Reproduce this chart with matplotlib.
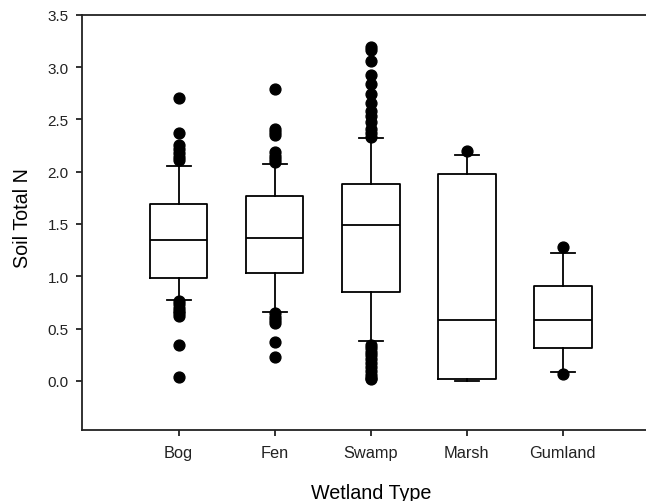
import matplotlib
matplotlib.use("Agg")
import matplotlib.pyplot as plt

plt.rcParams['font.family'] = ['Liberation Sans', 'DejaVu Sans']

categories = ['Bog', 'Fen', 'Swamp', 'Marsh', 'Gumland']
q1 = [0.98, 1.03, 0.85, 0.02, 0.31]
medians = [1.35, 1.37, 1.49, 0.58, 0.58]
q3 = [1.69, 1.77, 1.88, 1.98, 0.91]
whisker_low = [0.77, 0.66, 0.38, 0.00, 0.08]
whisker_high = [2.05, 2.07, 2.32, 2.16, 1.22]

bog_outliers = [2.70, 2.37, 2.25, 2.22, 2.18, 2.14, 2.11,
                0.76, 0.73, 0.70, 0.67, 0.65, 0.62, 0.34, 0.04]
fen_outliers = [2.79, 2.41, 2.38, 2.35, 2.19, 2.15, 2.12, 2.09,
                0.65, 0.61, 0.58, 0.55, 0.37, 0.23]
swamp_outliers = [3.19, 3.16, 3.06, 2.92, 2.84, 2.74, 2.66, 2.58, 2.53,
                  2.47, 2.41, 2.37, 2.33,
                  0.34, 0.31, 0.28, 0.25, 0.21, 0.17, 0.13, 0.09, 0.06,
                  0.03, 0.02]
marsh_outliers = [2.20]
gumland_outliers = [1.28, 0.07]
outliers = [bog_outliers, fen_outliers, swamp_outliers, marsh_outliers,
            gumland_outliers]


def buildStats():
    stats = []
    for i, name in enumerate(categories):
        stats.append({'label': name, 'q1': q1[i], 'med': medians[i],
                      'q3': q3[i], 'whislo': whisker_low[i],
                      'whishi': whisker_high[i], 'fliers': outliers[i]})
    return stats


def plotResult(stats):
    fig = plt.figure(figsize=(6.46, 5.02), dpi=100)
    ax = fig.add_axes([0.1277, 0.1414, 0.8923, 0.8273])

    lw = 1.3
    ax.bxp(stats, positions=range(1, len(stats) + 1), widths=0.6,
           capwidths=0.25,
           boxprops=dict(color='black', linewidth=lw),
           medianprops=dict(color='black', linewidth=lw),
           whiskerprops=dict(color='black', linewidth=lw),
           capprops=dict(color='black', linewidth=lw),
           flierprops=dict(marker='o', markerfacecolor='black',
                           markeredgecolor='black', markersize=7.8,
                           linestyle='none'))

    ax.set_xlim(0, 6)
    ax.set_ylim(-0.47, 3.5)
    ax.set_yticks([0.0, 0.5, 1.0, 1.5, 2.0, 2.5, 3.0, 3.5])
    ax.set_yticklabels(['0.0', '0.5', '1.0', '1.5', '2.0', '2.5', '3.0', '3.5'])
    ax.set_xticks(range(1, len(categories) + 1))
    ax.set_xticklabels(categories)

    ax.spines['right'].set_visible(False)
    for side in ['left', 'top', 'bottom']:
        ax.spines[side].set_linewidth(lw)
        ax.spines[side].set_color('#222222')
    ax.tick_params(axis='both', direction='out', length=4, width=lw,
                   colors='#222222', pad=6)
    ax.tick_params(axis='y', labelsize=11)
    ax.tick_params(axis='x', labelsize=11.8, pad=7)

    ax.set_xlabel("Wetland Type", fontsize=14.2, labelpad=16)
    ax.set_ylabel("Soil Total N", fontsize=14.2)
    ax.yaxis.set_label_coords(-0.088, 0.512)

    plt.savefig('out.png', dpi=100)


if __name__ == '__main__':
    plotResult(buildStats())
